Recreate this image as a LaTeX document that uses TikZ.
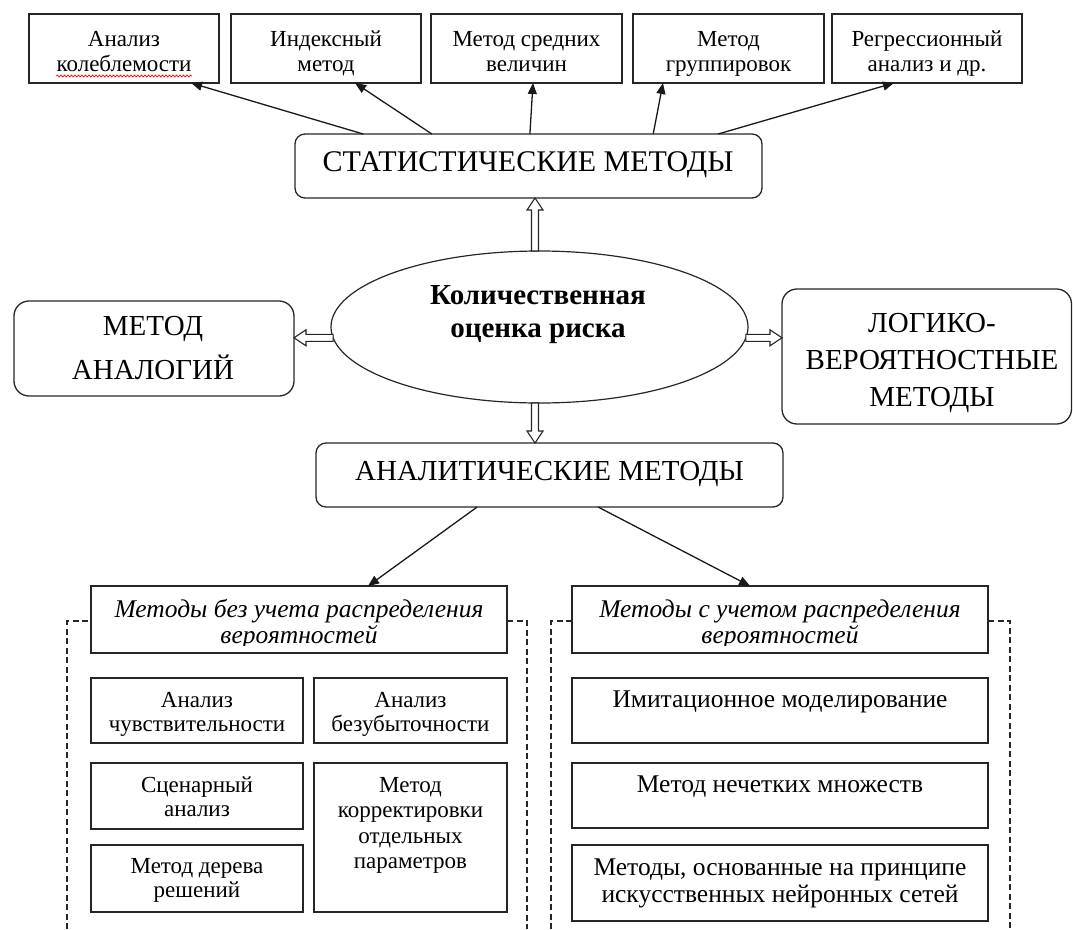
\documentclass[tikz,border=0pt]{standalone}
\usepackage{fontspec}
\setmainfont{Liberation Serif}
\usetikzlibrary{arrows.meta,calc,shapes.geometric,decorations.pathmorphing}

\tikzset{
  sq/.style={draw=black!85, line width=1.5pt, inner sep=0pt, outer sep=0pt},
  rnd/.style={draw=black!85, line width=1.3pt, rounded corners=10pt, inner sep=0pt, outer sep=0pt},
  rndb/.style={rnd, rounded corners=15pt},
  small/.style={font=\fontsize{23}{26}\selectfont, inner sep=0pt, anchor=base},
  mid/.style={font=\fontsize{25.5}{28}\selectfont, inner sep=0pt, anchor=base},
  big/.style={font=\fontsize{29}{33}\selectfont, inner sep=0pt, anchor=base},
  bigger/.style={font=\fontsize{30}{34}\selectfont, inner sep=0pt, anchor=base},
  bigb/.style={font=\fontsize{29}{33}\selectfont\bfseries, inner sep=0pt, anchor=base},
  hdr/.style={font=\fontsize{25.5}{28}\selectfont\itshape, inner sep=0pt, anchor=base},
  arr/.style={draw=black!90, line width=1.3pt, -{Triangle[length=11pt,width=9pt]}},
  blk/.style={draw=black!85, line width=1.1pt, fill=white},
  dsh/.style={draw=black!85, line width=1.2pt, dash pattern=on 6pt off 3.5pt},
}

% box by corners: name, x1, y1, x2, y2, style
\newcommand{\bx}[6]{\node[#6, minimum width={(#4)-(#2)}, minimum height={(#5)-(#3)}] (#1) at ({((#2)+(#4))/2},{((#3)+(#5))/2}) {};}

% hollow block arrow from #1 to #2
\newcommand{\blkarrow}[2]{%
  \coordinate (hh) at ($(#2)!12pt!(#1)$);
  \draw[blk] ($(#1)!3.5pt!90:(#2)$) -- ($(hh)!3.5pt!-90:(#1)$) -- ($(hh)!8pt!-90:(#1)$) -- (#2)
     -- ($(hh)!8pt!90:(#1)$) -- ($(hh)!3.5pt!90:(#1)$) -- ($(#1)!3.5pt!-90:(#2)$) -- cycle;}

\begin{document}
\begin{tikzpicture}[x=1pt, y=-1pt]
\useasboundingbox (0,0) rectangle (1073,929);

% ---------- top boxes ----------
\bx{b1}{29}{14}{219}{83}{sq}
\bx{b2}{231}{14}{421}{83}{sq}
\bx{b3}{431}{14}{622}{83}{sq}
\bx{b4}{633}{14}{824}{83}{sq}
\bx{b5}{832}{14}{1022}{83}{sq}

\node[small] (t1a) at (124,46) {Анализ};
\node[small] (t1b) at (124,71) {колеблемости};
\node[small] (t2a) at (326,46) {Индексный};
\node[small] (t2b) at (326,71) {метод};
\node[small] (t3a) at (526.5,46) {Метод средних};
\node[small] (t3b) at (526.5,71) {величин};
\node[small] (t4a) at (728.5,46) {Метод};
\node[small] (t4b) at (728.5,71) {группировок};
\node[small] (t5a) at (927,46) {Регрессионный};
\node[small] (t5b) at (927,71) {анализ и др.};

\draw[red, line width=0.7pt, decorate, decoration={snake, segment length=3.5pt, amplitude=1pt}]
  ($(t1b.base west)+(0,5)$) -- ($(t1b.base east)+(0,5)$);

% ---------- statistical methods ----------
\bx{stat}{295}{134}{762}{198}{rnd}
\node[bigger] (statt) at (528,171) {СТАТИСТИЧЕСКИЕ МЕТОДЫ};

\draw[arr] ($(stat.north west)!0.146!(stat.north east)$) -- ($(b1.south west)!0.853!(b1.south east)$);
\draw[arr] ($(stat.north west)!0.293!(stat.north east)$) -- ($(b2.south west)!0.653!(b2.south east)$);
\draw[arr] ($(stat.north west)!0.503!(stat.north east)$) -- ($(b3.south west)!0.534!(b3.south east)$);
\draw[arr] ($(stat.north west)!0.767!(stat.north east)$) -- ($(b4.south west)!0.157!(b4.south east)$);
\draw[arr] ($(stat.north west)!0.906!(stat.north east)$) -- ($(b5.south west)!0.326!(b5.south east)$);

% ---------- central ellipse ----------
\node[draw=black!85, ellipse, line width=1.2pt, minimum width=417, minimum height=152, inner sep=0pt, outer sep=0pt] (ell) at (539.5,327) {};
\node[bigb] (ella) at (538,304) {Количественная};
\node[bigb] (ellb) at (538,337) {оценка риска};

% ---------- side boxes ----------
\bx{ma}{14}{301}{294}{396}{rndb}
\node[big] (maa) at (153,335) {МЕТОД};
\node[big] (mab) at (153,379) {АНАЛОГИЙ};

\bx{lg}{782}{289}{1071.5}{424}{rndb}
\node[big] (lga) at (932,332) {ЛОГИКО-};
\node[big] (lgb) at (932,369) {ВЕРОЯТНОСТНЫЕ};
\node[big] (lgc) at (932,406) {МЕТОДЫ};

\bx{ana}{316}{443}{783}{507}{rnd}
\node[big] (anat) at (549.5,480) {АНАЛИТИЧЕСКИЕ МЕТОДЫ};

% ---------- block arrows ----------
\coordinate (eN) at ($(ell.north)+(-4.5,0)$);
\coordinate (sS) at (stat.south -| eN);
\coordinate (eS) at ($(ell.south)+(-4.5,0)$);
\coordinate (aN) at (ana.north -| eS);
\coordinate (eW) at (ell.183);
\coordinate (mE) at (ma.east |- eW);
\coordinate (eE) at (ell.-3);
\coordinate (lW) at (lg.west |- eE);
\blkarrow{eN}{sS}
\blkarrow{eS}{aN}
\blkarrow{eW}{mE}
\blkarrow{eE}{lW}

% ---------- lower headers ----------
\bx{hL}{91}{586}{507}{653}{sq}
\bx{hR}{572}{586}{988}{653}{sq}
\node[hdr] (hLa) at (299,617) {Методы без учета распределения};
\node[hdr] (hRa) at (780,617) {Методы с учетом распределения};
\begin{scope}
  \clip (91,600) rectangle (988,645);
  \node[hdr] (hLb) at (299,643) {вероятностей};
  \node[hdr] (hRb) at (780,643) {вероятностей};
\end{scope}

\draw[arr] ($(ana.south west)!0.345!(ana.south east)$) -- ($(hL.north west)!0.666!(hL.north east)$);
\draw[arr] ($(ana.south west)!0.604!(ana.south east)$) -- ($(hR.north west)!0.428!(hR.north east)$);

% ---------- dashed frames ----------
\coordinate (dL0) at (67,929);
\coordinate (dL1) at (67,621);
\coordinate (dL2) at (527,621);
\coordinate (dL3) at (527,929);
\draw[dsh] (dL0) -- (dL1) -- (hL.west |- dL1);
\draw[dsh] (hL.east |- dL2) -- (dL2) -- (dL3);
\coordinate (dR0) at (551,929);
\coordinate (dR1) at (551,621);
\coordinate (dR2) at (1010,621);
\coordinate (dR3) at (1010,929);
\draw[dsh] (dR0) -- (dR1) -- (hR.west |- dR1);
\draw[dsh] (hR.east |- dR2) -- (dR2) -- (dR3);

% ---------- left group boxes ----------
\bx{l1}{91}{678}{303}{743}{sq}
\bx{l2}{91}{763}{303}{829}{sq}
\bx{l3}{91}{845}{303}{912}{sq}
\bx{r1}{314}{678}{507}{743}{sq}
\bx{r2}{314}{763}{507}{912}{sq}

\node[small] (l1a) at (197,707) {Анализ};
\node[small] (l1b) at (197,731) {чувствительности};
\node[small] (r1a) at (410.5,707) {Анализ};
\node[small] (r1b) at (410.5,731) {безубыточности};
\node[small] (l2a) at (197,792) {Сценарный};
\node[small] (l2b) at (197,816) {анализ};
\node[small] (l3a) at (197,873) {Метод дерева};
\node[small] (l3b) at (197,897) {решений};
\node[small] (r2a) at (410.5,792) {Метод};
\node[small] (r2b) at (410.5,817) {корректировки};
\node[small] (r2c) at (410.5,843) {отдельных};
\node[small] (r2d) at (410.5,868) {параметров};

% ---------- right group boxes ----------
\bx{p1}{572}{678}{988}{743}{sq}
\bx{p2}{572}{763}{988}{828}{sq}
\bx{p3}{572}{845}{988}{921}{sq}
\node[mid] (p1a) at (780,707) {Имитационное моделирование};
\node[mid] (p2a) at (780,792) {Метод нечетких множеств};
\node[mid] (p3a) at (780,875) {Методы, основанные на принципе};
\node[mid] (p3b) at (780,902) {искусственных нейронных сетей};

\end{tikzpicture}
\end{document}
